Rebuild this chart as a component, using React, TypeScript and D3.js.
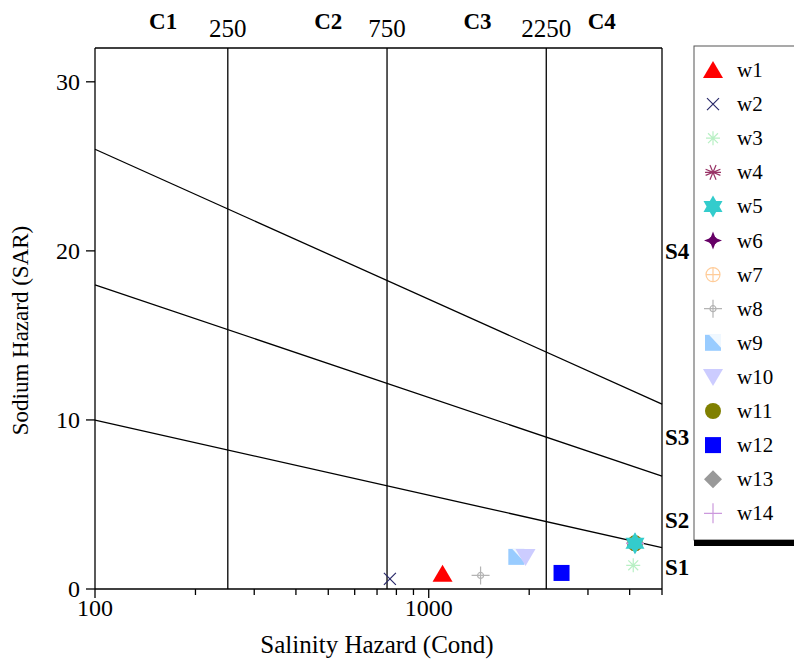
import React from "react";
import * as d3 from "d3";

const sampleNames = ["w1","w2","w3","w4","w5","w6","w7","w8","w9","w10","w11","w12","w13","w14"];
const condValues = [1100, 765, 4100, 4150, 4150, 4150, 4150, 1430, 1830, 1950, 4150, 2500, 4150, 4150];
const sarValues = [0.9, 0.6, 1.4, 2.7, 2.7, 2.7, 2.7, 0.8, 1.9, 1.9, 2.7, 0.95, 2.7, 2.7];
const sampleColors = ["#ff0000","#2b2b6b","#b8f0c4","#993366","#33cccc","#660066","#ffcc99","#b4b4b4","#99ccff","#ccccff","#808000","#0000ff","#999999","#cc99dd"];
const sampleShapes = ["triUp","x","ast","ast8","hex","star4","circCross","crossDot","sqHalf","triDown","circle","square","diamond","plus"];

const salinityBounds = [250, 750, 2250];
const salinityClasses = ["C1","C2","C3","C4"];
const salinityClassAt = [160, 500, 1400, 3300];
// SAR boundary lines: SAR = a - b*log10(EC)
const sodiumIntercepts = [18.87, 31.31, 43.75];
const sodiumSlopes = [4.44, 6.66, 8.87];
const sodiumClasses = ["S1","S2","S3","S4"];
const sodiumClassAt = [1.3, 4.1, 9.0, 20.0];
const yTicks = [0, 10, 20, 30];
const xTickLabels = [100, 1000];
const xMinor = [100,200,300,400,500,600,700,800,900,1000,2000,3000,4000,5000];

const W = 794, H = 663;
const left = 95, right = 662, top = 48, bottom = 589;

function Marker({ shape, color, cx, cy }: { shape: string; color: string; cx: number; cy: number }) {
  const t = `translate(${cx},${cy})`;
  switch (shape) {
    case "triUp":
      return <path transform={t} d="M0,-9L10,8L-10,8Z" fill={color} />;
    case "triDown":
      return <path transform={t} d="M-10,-8L10,-8L0,9Z" fill={color} />;
    case "x":
      return <path transform={t} d="M-6,-6L6,6M-6,6L6,-6" stroke={color} strokeWidth={1.2} fill="none" />;
    case "ast": {
      const p = d3.path();
      for (let i = 0; i < 4; i++) {
        const a = (i * Math.PI) / 4;
        p.moveTo(-7 * Math.cos(a), -7 * Math.sin(a));
        p.lineTo(7 * Math.cos(a), 7 * Math.sin(a));
      }
      return <path transform={t} d={p.toString()} stroke={color} strokeWidth={1.2} fill="none" />;
    }
    case "ast8": {
      const p = d3.path();
      for (let i = 0; i < 4; i++) {
        const a = (i * Math.PI) / 4 + Math.PI / 8;
        p.moveTo(-8 * Math.cos(a), -8 * Math.sin(a));
        p.lineTo(8 * Math.cos(a), 8 * Math.sin(a));
      }
      p.moveTo(-8, 0); p.lineTo(8, 0);
      return <path transform={t} d={p.toString()} stroke={color} strokeWidth={1.2} fill="none" />;
    }
    case "hex": {
      const r = 11;
      const tri = (off: number) =>
        d3.range(3).map((i) => {
          const a = off + (i * 2 * Math.PI) / 3;
          return `${r * Math.sin(a)},${-r * Math.cos(a)}`;
        }).join("L");
      return (
        <g transform={t} fill={color}>
          <path d={`M${tri(0)}Z`} />
          <path d={`M${tri(Math.PI)}Z`} />
        </g>
      );
    }
    case "star4":
      return (
        <g transform={t}>
          <path d="M0,-9L2.5,-2.5L9,0L2.5,2.5L0,9L-2.5,2.5L-9,0L-2.5,-2.5Z" fill={color} />
          <circle r={4} fill={color} />
        </g>
      );
    case "circCross":
      return (
        <g transform={t} stroke={color} strokeWidth={1.2} fill="none">
          <circle r={7} />
          <path d="M-7,0L7,0M0,-7L0,7" />
        </g>
      );
    case "crossDot":
      return (
        <g transform={t} stroke={color} strokeWidth={1.2} fill="none">
          <circle r={3} />
          <path d="M-9,0L9,0M0,-9L0,9" />
        </g>
      );
    case "sqHalf":
      return (
        <g transform={t}>
          <rect x={-8} y={-8} width={16} height={16} fill={color} />
          <path d="M-4,-8L8,-8L8,5Z" fill="#ffffff" opacity={0.85} />
        </g>
      );
    case "circle":
      return <circle transform={t} r={8} fill={color} />;
    case "square":
      return <rect transform={t} x={-8} y={-8} width={16} height={16} fill={color} />;
    case "diamond":
      return <path transform={t} d="M0,-9L9,0L0,9L-9,0Z" fill={color} />;
    case "plus":
      return <path transform={t} d="M-9,0L9,0M0,-10L0,10" stroke={color} strokeWidth={1.2} fill="none" />;
    default:
      return null;
  }
}

export default function App() {
  const x = d3.scaleLog().domain([100, 5000]).range([left, right]);
  const y = d3.scaleLinear().domain([0, 32]).range([bottom, top]);

  const points = sampleNames.map((n, i) => ({
    name: n, cond: condValues[i], sar: sarValues[i], color: sampleColors[i], shape: sampleShapes[i],
  }));
  const drawOrder = [...points.filter((p) => p.name !== "w5"), ...points.filter((p) => p.name === "w5")];

  const font = "'Liberation Serif', 'Times New Roman', serif";
  const sw = 1.3;

  return (
    <svg width={W} height={H} style={{ position: "absolute", left: 0, top: 0, background: "#fff" }} fontFamily={font}>
      <rect width={W} height={H} fill="#ffffff" />
      {/* frame */}
      <g stroke="#000" strokeWidth={sw}>
        <line x1={left} y1={top} x2={right} y2={top} />
        <line x1={right} y1={top} x2={right} y2={bottom} />
        <line x1={left} y1={top} x2={left} y2={bottom} />
        <line x1={left} y1={bottom} x2={right} y2={bottom} />
      </g>

      {/* salinity boundaries */}
      {salinityBounds.map((b) => (
        <g key={b}>
          <line x1={x(b)} x2={x(b)} y1={top} y2={bottom} stroke="#000" strokeWidth={sw} />
          <text x={x(b)} y={37} textAnchor="middle" fontSize={25}>{b}</text>
        </g>
      ))}
      {salinityClasses.map((c, i) => (
        <text key={c} x={x(salinityClassAt[i])} y={29} textAnchor="middle" fontSize={23} fontWeight="bold">{c}</text>
      ))}

      {/* sodium boundaries */}
      {sodiumIntercepts.map((a, i) => {
        const ec = [100, 5000];
        const d = ec.map((e) => y(a - sodiumSlopes[i] * Math.log10(e)));
        return (
          <line key={i} x1={x(100)} y1={d[0]} x2={x(5000)} y2={d[1]} stroke="#000" strokeWidth={sw} />
        );
      })}
      {sodiumClasses.map((s, i) => (
        <text key={s} x={right + 3} y={y(sodiumClassAt[i]) + 8} fontSize={23} fontWeight="bold">{s}</text>
      ))}

      {/* y axis */}
      {yTicks.map((v) => (
        <g key={v}>
          <line x1={left - 9} x2={left} y1={y(v)} y2={y(v)} stroke="#000" strokeWidth={sw} />
          <text x={left - 15} y={y(v) + 8} textAnchor="end" fontSize={24}>{v}</text>
        </g>
      ))}
      <text transform={`translate(28,${(top + bottom) / 2 + 12}) rotate(-90)`} textAnchor="middle" fontSize={23}>Sodium Hazard (SAR)</text>

      {/* x axis */}
      {xMinor.map((v) => (
        <line key={v} x1={x(v)} x2={x(v)} y1={bottom} y2={bottom + (xTickLabels.includes(v) ? 9 : 6)} stroke="#000" strokeWidth={sw} />
      ))}
      {xTickLabels.map((v) => (
        <text key={v} x={x(v)} y={616} textAnchor="middle" fontSize={24}>{v}</text>
      ))}
      <text x={377} y={653} textAnchor="middle" fontSize={25}>Salinity Hazard (Cond)</text>

      {/* points */}
      {drawOrder.map((p) => (
        <Marker key={p.name} shape={p.shape} color={p.color} cx={x(p.cond)} cy={y(p.sar)} />
      ))}

      {/* legend */}
      <rect x={694} y={46} width={110} height={494} fill="#fff" stroke="#555" />
      <rect x={694} y={540} width={110} height={6} fill="#000" />
      {points.map((p, i) => (
        <g key={p.name}>
          <Marker shape={p.shape} color={p.color} cx={713} cy={70 + i * 34.1} />
          <text x={737} y={70 + i * 34.1 + 7} fontSize={21}>{p.name}</text>
        </g>
      ))}
    </svg>
  );
}
